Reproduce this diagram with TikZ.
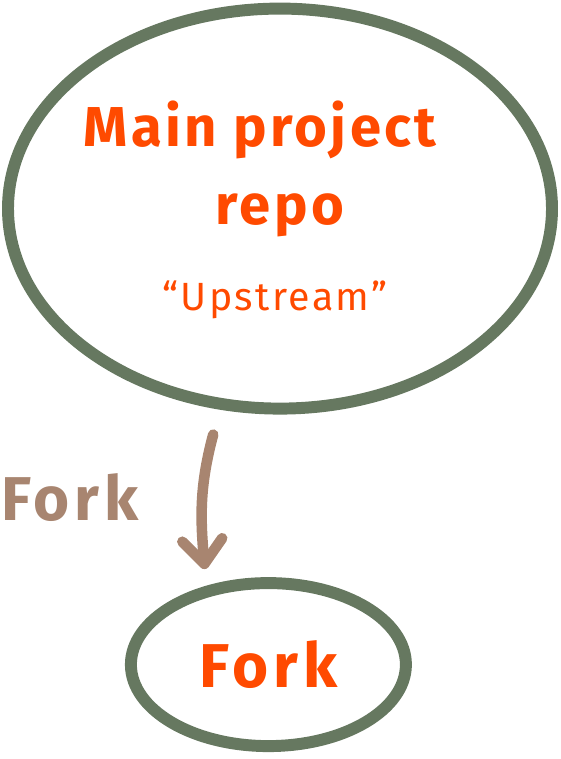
\documentclass[tikz,border=0pt]{standalone}
\usepackage{fontspec}
\setmainfont{Fira Sans}
\usepackage{xcolor}
\usetikzlibrary{arrows.meta,positioning,shapes.geometric,calc}
\definecolor{ringgreen}{HTML}{667860}
\definecolor{textorange}{HTML}{FF4A00}
\definecolor{forkbrown}{HTML}{A88570}

\begin{document}
\begin{tikzpicture}[
  line width=8.5pt,
  repo/.style={ellipse, draw=ringgreen, inner sep=0pt},
  title/.style={text=textorange, font=\fontsize{40}{44}\selectfont\bfseries\addfontfeatures{LetterSpace=6}},
  flow/.style={-{Straight Barb[length=6mm,width=10mm,round]}, draw=forkbrown, line width=7.5pt, line cap=round}
]
  \useasboundingbox (0,0) rectangle (14,18.975);
  \node[repo, minimum width=13.6cm, minimum height=10cm] (upstream) at (7.0,13.76) {};
  \node[repo, minimum width=6.875cm, minimum height=4.075cm] (fork) at (6.71,2.36) {};
  \node[title] (main) at (6.5,15.72) {Main project};
  \node[title] (repo) at (7.0,13.6) {repo};
  \node[title, font=\fontsize{28}{32}\selectfont\addfontfeatures{LetterSpace=6}] (up) at (6.875,11.48) {``Upstream''};
  \node[title, font=\fontsize{44}{48}\selectfont\bfseries\addfontfeatures{LetterSpace=8}] (forklabel) at (fork) {Fork};
  \node[text=forkbrown, font=\fontsize{44}{48}\selectfont\bfseries\addfontfeatures{LetterSpace=8}] (forkarrow) at (1.75,6.53) {Fork};
  \draw[flow] ($(upstream.south)+(-1.67,-0.5)$) to[out=255,in=95] ($(fork.north)+(-1.59,0.2)$);
\end{tikzpicture}
\end{document}
